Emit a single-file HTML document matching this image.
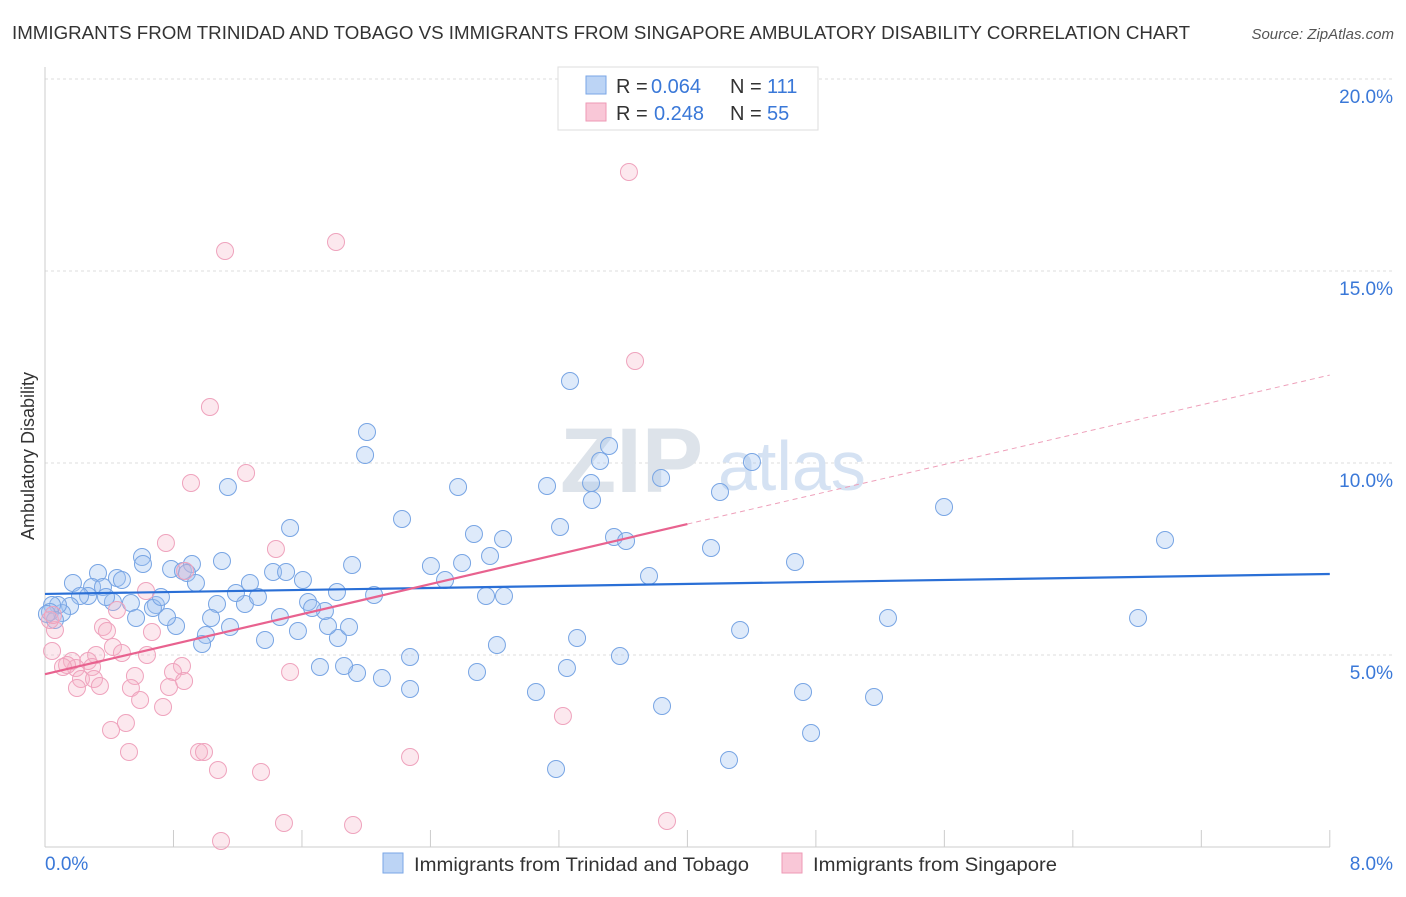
<!DOCTYPE html>
<html><head><meta charset="utf-8"><style>
body{margin:0;background:#fff;font-family:"Liberation Sans",sans-serif;}
svg text{font-family:"Liberation Sans",sans-serif;}
</style></head><body>
<svg width="1406" height="892" viewBox="0 0 1406 892" xmlns="http://www.w3.org/2000/svg">
<text x="12" y="39" font-size="18" fill="#333" textLength="1178" lengthAdjust="spacingAndGlyphs">IMMIGRANTS FROM TRINIDAD AND TOBAGO VS IMMIGRANTS FROM SINGAPORE AMBULATORY DISABILITY CORRELATION CHART</text>
<text x="1394" y="39" font-size="15" fill="#555" font-style="italic" text-anchor="end">Source: ZipAtlas.com</text>
<g id="grid"></g>
<g id="yt"></g>
<g id="xt"></g>
<text x="560" y="492" font-size="92" fill="#dde3ea" font-family="Liberation Serif" font-weight="bold">ZIP</text>
<text x="718" y="490" font-size="70" fill="#d5e2f3">atlas</text>
<line x1="45" y1="67" x2="45" y2="847" stroke="#ccc"/>
<line x1="45" y1="847" x2="1330" y2="847" stroke="#ccc"/>
<text transform="translate(34,456) rotate(-90)" font-size="18" fill="#333" text-anchor="middle">Ambulatory Disability</text>
<g id="pts"></g>
<g id="lines"></g>
<g>
<rect x="558" y="67" width="260" height="63" fill="#fff" stroke="#ddd"/>
<rect x="586" y="76" width="20" height="18" fill="#bcd4f5" stroke="#7aa6e6"/>
<rect x="586" y="103" width="20" height="18" fill="#f9c7d7" stroke="#ee9ab6"/>
<text x="616" y="93" font-size="20" fill="#333">R =</text>
<text x="651" y="93" font-size="20" fill="#3a78d8">0.064</text>
<text x="730" y="93" font-size="20" fill="#333">N =</text>
<text x="767" y="93" font-size="20" fill="#3a78d8">111</text>
<text x="616" y="120" font-size="20" fill="#333">R =</text>
<text x="654" y="120" font-size="20" fill="#3a78d8">0.248</text>
<text x="730" y="120" font-size="20" fill="#333">N =</text>
<text x="767" y="120" font-size="20" fill="#3a78d8">55</text>
</g>
<g>
<rect x="383" y="853" width="20" height="20" fill="#bcd4f5" stroke="#7aa6e6"/>
<text x="414" y="871" font-size="19" fill="#333" textLength="335" lengthAdjust="spacingAndGlyphs">Immigrants from Trinidad and Tobago</text>
<rect x="782" y="853" width="20" height="20" fill="#f9c7d7" stroke="#ee9ab6"/>
<text x="813" y="871" font-size="19" fill="#333" textLength="244" lengthAdjust="spacingAndGlyphs">Immigrants from Singapore</text>
</g>
</svg>
<script>
const yTicks=[5,10,15,20];
const xTickLabels=["0.0%","8.0%"];
const bluePx=[[73,583],[98,573],[92,587],[103,587],[117,578],[122,580],[142,557],[171,569],[183,571],[192,564],[187,573],[196,583],[222,561],[228,487],[290,528],[273,572],[286,572],[303,580],[337,592],[352,565],[367,432],[365,455],[402,519],[431,566],[458,487],[474,534],[462,563],[490,556],[503,539],[547,486],[560,527],[570,381],[609,446],[600,461],[591,483],[592,500],[614,537],[626,541],[661,478],[649,576],[720,492],[711,548],[752,462],[795,562],[944,507],[1165,540],[1138,618],[888,618],[740,630],[577,638],[567,668],[620,656],[497,645],[477,672],[536,692],[556,769],[662,706],[729,760],[803,692],[811,733],[874,697],[410,657],[410,689],[382,678],[357,673],[344,666],[320,667],[338,638],[349,627],[328,626],[325,611],[298,631],[280,617],[265,640],[245,604],[258,597],[250,583],[236,593],[230,627],[217,604],[211,618],[206,635],[202,644],[176,626],[167,617],[156,605],[153,608],[161,597],[131,603],[136,618],[113,602],[106,597],[88,596],[80,596],[70,606],[62,613],[58,605],[52,605],[50,612],[55,620],[47,614],[308,602],[312,608],[486,596],[504,596],[374,595],[445,580],[143,564]];
const pinkPx=[[629,172],[225,251],[336,242],[635,361],[210,407],[246,473],[191,483],[166,543],[276,549],[185,571],[146,591],[117,610],[103,627],[107,631],[152,632],[113,647],[122,653],[96,655],[147,655],[88,661],[72,661],[76,668],[67,665],[63,667],[92,667],[182,666],[173,672],[290,672],[135,676],[81,679],[94,679],[77,688],[100,686],[131,688],[169,687],[184,681],[140,700],[163,707],[126,723],[111,730],[129,752],[199,752],[204,752],[218,770],[261,772],[410,757],[563,716],[284,823],[353,825],[667,821],[221,841],[52,651],[55,630],[50,620],[53,615]];
const blueX=bluePx.map(p=>+((p[0]-45)/160.6).toFixed(3)), blueY=bluePx.map(p=>+((847-p[1])/38.4).toFixed(3));
const pinkX=pinkPx.map(p=>+((p[0]-45)/160.6).toFixed(3)), pinkY=pinkPx.map(p=>+((847-p[1])/38.4).toFixed(3));
const blueTrend=[6.59,7.11];
const pinkTrend=[4.5,8.41,12.29];
const X=v=>45+v*160.6, Y=v=>847-v*38.4;
const NS="http://www.w3.org/2000/svg";
function mk(t,a,p){const e=document.createElementNS(NS,t);for(const k in a)e.setAttribute(k,a[k]);p.appendChild(e);return e;}
const grid=document.getElementById('grid'),yt=document.getElementById('yt'),xt=document.getElementById('xt');
yTicks.forEach(v=>{
 const l=mk('line',{x1:45,x2:1394,y1:Y(v),y2:Y(v),stroke:'#ddd','stroke-dasharray':'3,3'},grid);
 
 
 const t=mk('text',{x:1393,y:Y(v)+24,'font-size':19,fill:'#3a78d8','text-anchor':'end'},yt);
 t.textContent=v.toFixed(1)+'%';
 
 
});
for(let i=0;i<=10;i++){const x=X(i*0.8);const l=mk('line',{x1:x,x2:x,y1:830,y2:847,stroke:'#ccc'},xt);
 
 }
[[45,'start',xTickLabels[0]],[1393,'end',xTickLabels[1]]].forEach(d=>{const t=mk('text',{x:d[0],y:870,'font-size':19,fill:'#3a78d8','text-anchor':d[1]},xt);t.textContent=d[2];
 
 });
const pts=document.getElementById('pts');


blueX.forEach((x,i)=>{const c=mk('circle',{cx:X(x),cy:Y(blueY[i]),r:8.5,fill:'rgba(160,195,240,0.35)',stroke:'#78a5e4','stroke-width':1},pts);
 
 });
pinkX.forEach((x,i)=>{const c=mk('circle',{cx:X(x),cy:Y(pinkY[i]),r:8.5,fill:'rgba(245,180,200,0.3)',stroke:'#efa3bd','stroke-width':1},pts);
 
 });
const ln=document.getElementById('lines');
const b=mk('line',{x1:X(0),y1:Y(blueTrend[0]),x2:X(8),y2:Y(blueTrend[1]),stroke:'#2a6fd6','stroke-width':2.2},ln);


const p=mk('line',{x1:X(0),y1:Y(pinkTrend[0]),x2:X(4),y2:Y(pinkTrend[1]),stroke:'#e8628f','stroke-width':2.2},ln);


const pd=mk('line',{x1:X(4),y1:Y(pinkTrend[1]),x2:X(8),y2:Y(pinkTrend[2]),stroke:'#eea0ba','stroke-width':1,'stroke-dasharray':'5,4'},ln);


</script>
</body></html>
